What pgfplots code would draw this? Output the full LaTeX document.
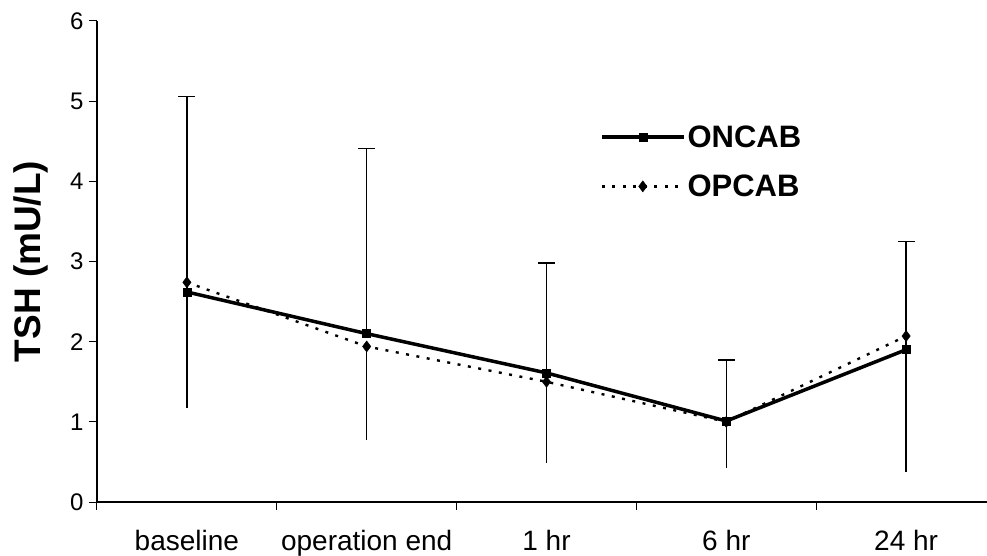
\documentclass[border=0pt]{standalone}
\usepackage{fontspec}
\setmainfont{Liberation Sans}
\usepackage{pgfplots}
\pgfplotsset{compat=1.18}
\begin{document}
\begin{tikzpicture}
\begin{axis}[
  scale only axis, width=890pt, height=481pt,
  xmin=-0.5, xmax=4.45, ymin=0, ymax=6,
  axis x line=bottom, axis y line=left,
  axis line style={-, line width=1.3pt},
  xtick={-0.5,0.5,1.5,2.5,3.5},
  xticklabels={},
  extra x ticks={0,1,2,3,4},
  extra x tick labels={baseline, operation end, 1 hr, 6 hr, 24 hr},
  extra x tick style={major tick length=0pt, tick style={draw=none}},
  ytick={0,1,2,3,4,5,6},
  major tick length=8pt,
  tick align=outside,
  tick style={black, line width=1pt},
  /pgf/number format/assume math mode=true,
  xticklabel style={font=\fontsize{28}{28}\selectfont, yshift=-25pt},
  yticklabel style={font=\fontsize{24}{24}\selectfont, xshift=-2pt},
  every axis y label/.style={at={(rel axis cs:0,0.5)}, xshift=-66pt, rotate=90, anchor=center},
  ylabel={\fontsize{37}{37}\selectfont\bfseries TSH (mU/L)},
  legend style={draw=none, fill=none, at={(rel axis cs:0.565,0.787)}, anchor=north west,
    font=\fontsize{31}{31}\selectfont\bfseries, row sep=22pt, inner sep=0pt,
    /tikz/every even column/.append style={column sep=4pt}},
  legend cell align=left,
  legend image code/.code={
    \draw[mark repeat=2, mark phase=2, #1] plot coordinates {(0pt,0pt) (41pt,0pt) (82pt,0pt)};
  },
  clip=false,
]
\addplot[black, line width=3.5pt, mark=square*, mark size=4pt,
  mark options={solid, line width=0.5pt},
  error bars/.cd, y dir=plus, y explicit,
  error bar style={solid, line width=1.3pt},
  error mark options={solid, line width=1.3pt, mark size=8.5pt, rotate=90}]
  coordinates {
  (0,2.62) +- (0,2.44)
  (1,2.10) +- (0,2.31)
  (2,1.61) +- (0,1.37)
  (3,1.01) +- (0,0.76)
  (4,1.90) +- (0,1.35)
};
\addlegendentry{ONCAB}
\addplot[black, line width=2.4pt, dash pattern=on 3pt off 7.5pt, mark=diamond*, mark size=5.5pt,
  mark options={solid, line width=0.5pt},
  error bars/.cd, y dir=minus, y explicit,
  error bar style={solid, line width=1.3pt},
  error mark=none]
  coordinates {
  (0,2.74) +- (0,1.57)
  (1,1.94) +- (0,1.17)
  (2,1.50) +- (0,1.01)
  (3,1.00) +- (0,0.58)
  (4,2.07) +- (0,1.69)
};
\addlegendentry{OPCAB}
\coordinate (O) at (rel axis cs:0,0);
\end{axis}
\pgfresetboundingbox
\path (O) ++(-97pt,-53pt) rectangle ++(987pt,555pt);
\end{tikzpicture}
\end{document}
